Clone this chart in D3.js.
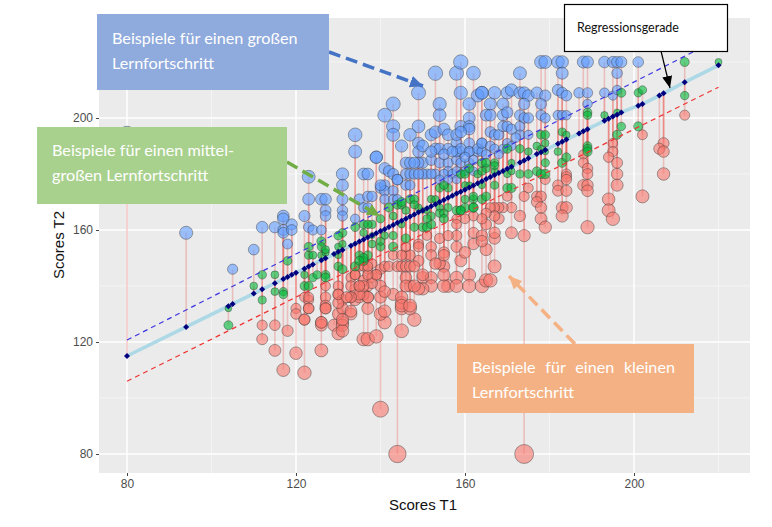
<!DOCTYPE html>
<html><head><meta charset="utf-8">
<script src="https://cdn.jsdelivr.net/npm/d3@7"></script>
<style>html,body{margin:0;padding:0;background:#fff}svg{display:block}</style>
</head><body><svg id="c" width="772" height="527"></svg>
<script>
const xTicks=[80,120,160,200], yTicks=[80,120,160,200];
const xMinor=[100,140,180,220], yMinor=[100,140,180,220];
const xLabel="Scores T1", yLabel="Scores T2";

// [Scores T1, Scores T2]
const bluePoints=[[80,194],[94,159],[105,146],[110,153],[112,161],[115,161],[117,165],[117,164],[117,160],[117,159],[118,155],[119,162],[119,160],[122,165],[123,161],[124,160],[126,160],
[123,179],[123,171],[126,171],[127,171],[127,167],[127,165],[131,180],[131,176],[131,171],[131,167],[131,165],[134,164],[134,194],[134,188],[135,171],[137,172],[138,172],[136,168],[137,168],[139,186],
[140,175],[141,182],[142,181],[143,180],[144,178],[141,176],[141,174],[141,171],[143,174],[143,171],[144,171],[146,180],[147,180],[148,180],[146,176],[147,176],[151,180],[153,180],[150,184],[152,185],[154,184],[156,184],[158,185],[159,188],[161,188],[163,188],[164,191],[161,191],[158,191],
[149,209],[153,216],[158,216],[159,220],[162,216],[159,209],[164,209],[163,208],[143,205],[141,201],[154,205],[154,201],[161,205],[161,200],[143,197],[143,194],[149,197],[147,194],[145,190],[139,186],[152,194],[153,195],[155,196],[156,194],[159,197],[161,197],[161,196],[158,194],[159,195],[149,191],[149,188],[150,190],[153,189],[154,189],[156,189],[158,188],[159,189],[161,188],[163,189],[164,188],[149,184],[159,184],[161,184],[136,180],[137,180],[144,178],[156,181],[140,176],
[178,220],[179,220],[182,220],[183,220],[188,220],[189,220],[193,220],[195,220],[196,220],[197,220],[201,220],[173,216],[183,216],[196,216],[164,209],[167,209],[170,209],[171,210],[173,209],[174,209],[175,208],[177,209],[179,208],[182,210],[183,209],[184,208],[187,209],[189,209],[193,209],[195,208],[196,210],
[166,205],[169,205],[174,205],[178,205],[189,205],[165,201],[166,201],[169,201],[170,202],[173,201],[174,200],[175,200],[178,201],[179,200],[182,201],[183,201],[184,201],[166,195],[167,194],[168,194],[169,197],[170,197],[171,196],[173,197],[173,194],[175,194],[164,191],[166,190],[167,189],[169,189],
[146,184],[147,184],[148,184],[150,180],[152,180],[155,180],[157,180],[158,181],[160,181],[162,181],[149,180],[154,178],[156,178],[158,178],[152,188],[155,187],[157,188],[160,186],[162,185],[165,187],[168,187],[170,191],[171,190],[172,193]];

const greenPoints=[[104,132],[104,126],[110,140],[112,144],[112,135],[115,144],[115,138],[117,138],[117,137],[118,149],[122,144],[122,140],[123,140],[124,143],[125,144],[127,144],[127,143],[123,151],[124,151],[126,151],[127,152],[130,147],[131,146],[130,151],[134,147],[135,151],[136,149],[123,154],[126,156],[126,154],[127,153],[130,154],[131,159],[131,155],[130,158],[137,151],[134,161],[136,162],[138,162],[136,159],[138,158],[138,155],[136,150],[135,149],[137,162],[140,154],[140,156],[141,158],[140,164],[143,158],[143,165],[146,157],[142,168],[144,169],[145,169],[146,167],[147,171],[148,171],[152,171],[150,161],[151,161],[152,162],[148,161],[150,167],[151,167],[154,175],[156,175],[154,168],[156,168],[159,180],[160,180],[159,167],[162,171],[160,168],[162,168],[161,182],[163,180],[165,182],[167,184],[167,181],[164,171],[165,172],[167,176],[170,175],[171,175],[170,189],[171,184],[170,180],[143,154],[145,170],[145,162],[149,168],[148,169],[152,165],[151,164],[153,171],[154,166],[155,166],[155,164],[155,176],[158,167],[159,167],[160,171],[160,176],[161,176],[162,172],[162,168],[164,176],[164,184],[165,184],[164,181],[167,183],[171,181],
[173,189],[175,188],[177,190],[178,189],[179,188],[182,188],[183,184],[184,186],[189,190],[189,189],[189,188],[173,180],[175,180],[177,181],[178,180],[179,184],[179,180],[178,194],[179,194],[179,191],[183,195],[184,194],[189,202],[189,201],[193,201],[196,202],[197,209],[201,209],[202,210],[197,197],[201,197],[196,194],[212,220],[220,220],[212,208]];

const redPoints=[[112,126],[112,121],[115,126],[115,117],[117,110],[118,124],[120,132],[120,130],[120,116],[122,128],[122,109],[122,136],[123,135],[123,132],[126,127],[126,126],[126,117],[127,140],[127,136],[127,133],[127,132],[129,126],[130,130],[130,140],[130,137],[130,123],[131,127],[131,126],[131,124],[131,135],[131,132],[133,143],[133,136],[133,130],[134,139],[134,135],[134,144],[135,140],[135,136],[136,121],[137,121],[137,132],[137,140],[137,136],[136,137],[139,122],[145,124],[141,127],[148,128],[140,130],[141,131],[145,132],[147,132],[145,134],[140,96],[144,80],[174,80],
[135,147],[136,147],[137,146],[138,148],[136,142],[138,143],[139,144],[140,146],[141,147],[142,147],[144,147],[145,147],[146,147],[147,147],[149,149],[146,151],[147,151],[149,155],[151,158],[152,154],[152,151],[154,157],[155,152],[155,147],[154,148],[153,148],[158,154],[158,158],[159,149],[160,152],[162,165],[162,155],[162,159],[160,164],[158,164],[158,162],[165,153],[164,158],[165,162],[156,140],[155,140],[158,143],[158,140],[161,144],[161,140],[164,140],[165,142],[147,140],[150,143],[152,143],[152,140],[150,139],[149,139],[146,143],[146,140],[140,140],[138,141],[137,136],[140,136],[143,137],[145,136],[145,133],[147,133],[135,137],[136,140],
[167,147],[166,142],[155,144],[155,151],[164,156],[167,157],[156,158],[150,144],[148,140],[148,147],[143,151],[145,151],[146,154],[149,154],[141,138],[139,144],[137,144],[137,147],[133,131],[131,128],[126,127],[122,128],[123,136],[123,132],[127,132],[130,134],[130,137],[133,140],[134,144],[135,140],[133,136],[132,136],
[212,201],[202,194],[207,191],[206,189],[207,188],[207,180],[202,172],[195,191],[195,188],[194,186],[196,184],[196,180],[196,176],[194,171],[194,167],[195,164],[189,161],[188,187],[188,184],[189,182],[189,180],[188,176],[189,176],[189,174],[184,180],[184,179],[184,178],[182,176],[182,174],[184,174],[183,168],[184,168],[183,165],[179,178],[177,172],[178,172],[177,170],[178,168],[178,164],[179,161],[174,172],[175,175],[173,165],[171,168],[171,159],[174,158],[169,168],[168,168],[168,164],[167,168],[166,168],[167,165],[167,159],[170,172],[165,166],[164,164]];

// fitted values on the regression line
const fitT1=[80,94,104,105,110,112,115,117,118,119,120,122,123,124,126,127,129,130,131,133,134,135,136,137,138,139,140,141,142,143,144,145,146,147,148,149,150,151,152,153,154,155,156,157,158,159,160,161,162,163,164,165,166,167,168,169,170,171,173,174,175,177,178,179,182,183,184,187,188,189,193,194,195,196,197,201,202,206,207,212,220];
const fitT2=[115,125.4,132.8,133.6,137.3,138.8,141,142.5,143.2,144,144.7,146.2,147,147.7,149.2,149.9,151.4,152.2,152.9,154.4,155.1,155.9,156.6,157.4,158.1,158.8,159.6,160.3,161.1,161.8,162.6,163.3,164,164.8,165.5,166.3,167,167.8,168.5,169.2,170,170.7,171.5,172.2,173,173.7,174.4,175.2,175.9,176.7,177.4,178.2,178.9,179.6,180.4,181.1,181.9,182.6,184.1,184.8,185.6,187.1,187.8,188.6,190.8,191.5,192.3,194.5,195.3,196,199,199.7,200.5,201.2,202,204.4,205,208,208.8,212.8,218.8];
const upperT1=[80,214], upperT2=[120.7,223.6];
const lowerT1=[80,220], lowerT2=[106,211];

const svg=d3.select("#c");
const P={l:99,r:750,t:18,b:473};
const x=d3.scaleLinear().domain([80,200]).range([127,634]);
const y=d3.scaleLinear().domain([80,200]).range([454,118]);
const r=d3.scalePow().exponent(0.5).domain([0,85]).range([2.8,8.8]);
const fitMap=new Map(fitT1.map((d,i)=>[d,fitT2[i]]));
const fitAt=t=>fitMap.has(t)?fitMap.get(t):d3.scaleLinear().domain(fitT1).range(fitT2)(t);

svg.append("rect").attr("x",P.l).attr("y",P.t).attr("width",P.r-P.l).attr("height",P.b-P.t).attr("fill","#ebebeb");
const g=svg.append("g");
g.selectAll(".mx").data(xMinor).join("line").attr("x1",x).attr("x2",x).attr("y1",P.t).attr("y2",P.b).attr("stroke","#f6f6f6").attr("stroke-width",.8);
g.selectAll(".my").data(yMinor).join("line").attr("y1",y).attr("y2",y).attr("x1",P.l).attr("x2",P.r).attr("stroke","#f6f6f6").attr("stroke-width",.8);
g.selectAll(".Mx").data(xTicks).join("line").attr("x1",x).attr("x2",x).attr("y1",P.t).attr("y2",P.b).attr("stroke","#fff").attr("stroke-width",1.5);
g.selectAll(".My").data(yTicks).join("line").attr("y1",y).attr("y2",y).attr("x1",P.l).attr("x2",P.r).attr("stroke","#fff").attr("stroke-width",1.5);

const ax=svg.append("g").attr("transform",`translate(0,${P.b})`).call(d3.axisBottom(x).tickValues(xTicks).tickSize(3).tickPadding(3));
const ay=svg.append("g").attr("transform",`translate(${P.l},0)`).call(d3.axisLeft(y).tickValues(yTicks).tickSize(3).tickPadding(3));
[ax,ay].forEach(a=>{a.select(".domain").remove();a.selectAll("line").attr("stroke","#444");a.selectAll("text").attr("fill","#4d4d4d").style("font-family","Liberation Sans").style("font-size","12px");});
svg.append("text").attr("x",423).attr("y",510).attr("text-anchor","middle").style("font-family","Liberation Sans").style("font-size","15px").attr("fill","#111").text(xLabel);
svg.append("text").attr("transform","translate(64,245) rotate(-90)").attr("text-anchor","middle").style("font-family","Liberation Sans").style("font-size","15px").attr("fill","#111").text(yLabel);

const line=d3.line().x(d=>x(d[0])).y(d=>y(d[1]));
g.append("path").attr("d",line(fitT1.map((d,i)=>[d,fitT2[i]]))).attr("fill","none").attr("stroke","#add8e6").attr("stroke-width",3.6);

const groups=[{d:redPoints,f:"#f8766d"},{d:bluePoints,f:"#619cff"},{d:greenPoints,f:"#00ba38"}];
const all=groups.flatMap(k=>k.d.map(p=>({t1:p[0],t2:p[1],f:k.f})));
g.selectAll(".seg").data(all).join("line").attr("x1",d=>x(d.t1)).attr("x2",d=>x(d.t1)).attr("y1",d=>y(d.t2)).attr("y2",d=>y(fitAt(d.t1))).attr("stroke","#e8605a").attr("stroke-opacity",.32).attr("stroke-width",1.6);
g.selectAll(".pt").data(all).join("circle").attr("cx",d=>x(d.t1)).attr("cy",d=>y(d.t2)).attr("r",d=>r(Math.abs(d.t2-fitAt(d.t1)))).attr("fill",d=>d.f).attr("fill-opacity",.6).attr("stroke","#333").attr("stroke-opacity",.42).attr("stroke-width",1);

g.append("path").attr("d",line(upperT1.map((d,i)=>[d,upperT2[i]]))).attr("fill","none").attr("stroke","#3a35e0").attr("stroke-width",1.2).attr("stroke-dasharray","5 4");
g.append("path").attr("d",line(lowerT1.map((d,i)=>[d,lowerT2[i]]))).attr("fill","none").attr("stroke","#ee3535").attr("stroke-width",1.2).attr("stroke-dasharray","5 4");
g.selectAll(".fit").data(fitT1).join("path").attr("transform",(d,i)=>`translate(${x(d)},${y(fitT2[i])}) rotate(45)`).attr("d",d3.symbol(d3.symbolSquare,18)()).attr("fill","#00007f");

// annotations
const defs=svg.append("defs");
function arrow(id,col,w,h){defs.append("marker").attr("id",id).attr("markerUnits","userSpaceOnUse").attr("markerWidth",w).attr("markerHeight",h).attr("refX",w).attr("refY",h/2).attr("orient","auto").append("path").attr("d",`M0,0L${w},${h/2}L0,${h}Z`).attr("fill",col);}
arrow("ab","#4472c4",13,12);arrow("ag","#70ad47",13,12);arrow("ao","#f4b183",13,12);arrow("ak","#000",12,10);
const ann=[[329,52,423,86,"#4472c4","ab"],[287,162,380,216,"#70ad47","ag"],[575,344,509,276,"#f4b183","ao"]];
svg.selectAll(".arr").data(ann).join("line").attr("x1",d=>d[0]).attr("y1",d=>d[1]).attr("x2",d=>d[2]).attr("y2",d=>d[3]).attr("stroke",d=>d[4]).attr("stroke-width",3.5).attr("stroke-dasharray","12 6").attr("marker-end",d=>`url(#${d[5]})`);
svg.append("line").attr("x1",661).attr("y1",51).attr("x2",670).attr("y2",88).attr("stroke","#000").attr("stroke-width",1.2).attr("marker-end","url(#ak)");

const boxes=[
{x:97,y:14,w:232,h:76,f:"#8faadc",tx:112,ty:[44,69],lines:["Beispiele für einen großen","Lernfortschritt"],ws:[0,0]},
{x:37,y:127,w:250,h:77,f:"#a9d18e",tx:52,ty:[156,181],lines:["Beispiele für einen mittel-","großen Lernfortschritt"],ws:[0,0]},
{x:457,y:344,w:237,h:69,f:"#f4b183",tx:472,ty:[373,398],lines:["Beispiele für einen kleinen","Lernfortschritt"],ws:[5.5,0]}];
boxes.forEach(b=>{
 svg.append("rect").attr("x",b.x).attr("y",b.y).attr("width",b.w).attr("height",b.h).attr("fill",b.f);
 b.lines.forEach((t,i)=>svg.append("text").attr("x",b.tx).attr("y",b.ty[i]).attr("fill","#fff").style("font-family","Lato").style("font-size","16.2px").style("word-spacing",b.ws[i]+"px").text(t));
});
svg.append("rect").attr("x",564.5).attr("y",4.5).attr("width",163).attr("height",47).attr("fill","#fff").attr("stroke","#000").attr("stroke-width",1.2);
svg.append("text").attr("x",577).attr("y",32).attr("fill","#111").style("font-family","Lato").style("font-size","12.5px").text("Regressionsgerade");
</script></body></html>
